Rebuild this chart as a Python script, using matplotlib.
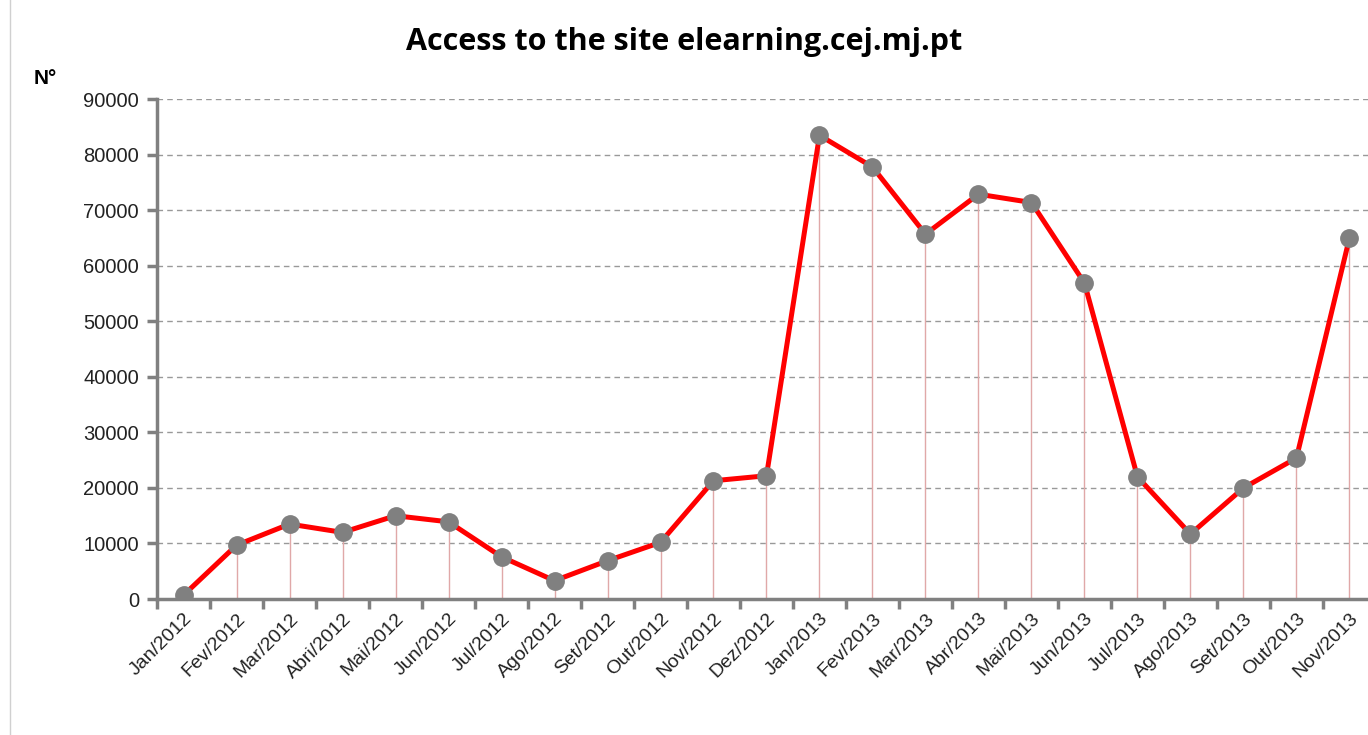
import matplotlib
matplotlib.use("Agg")
import matplotlib.pyplot as plt
from matplotlib.lines import Line2D

months = ["Jan/2012", "Fev/2012", "Mar/2012", "Abri/2012", "Mai/2012", "Jun/2012",
          "Jul/2012", "Ago/2012", "Set/2012", "Out/2012", "Nov/2012", "Dez/2012",
          "Jan/2013", "Fev/2013", "Mar/2013", "Abr/2013", "Mai/2013", "Jun/2013",
          "Jul/2013", "Ago/2013", "Set/2013", "Out/2013", "Nov/2013"]
accesses = [700, 9700, 13500, 12000, 15000, 13900, 7600, 3300, 6900, 10200, 21300, 22200,
            83500, 77800, 65700, 72900, 71400, 56900, 22000, 11700, 20000, 25400, 65000]
yticks = [0, 10000, 20000, 30000, 40000, 50000, 60000, 70000, 80000, 90000]

narrow = ["Liberation Sans Narrow", "Liberation Sans", "DejaVu Sans"]

fig = plt.figure(figsize=(13.68, 7.35), dpi=100)
ax = fig.add_axes([0.1148, 0.185, 0.891, 0.680])
x = list(range(len(months)))

ax.vlines(x, 0, accesses, colors="#e0a8a8", linewidth=1.0, zorder=2)
ax.plot(x, accesses, color="#ff0000", linewidth=3.6, zorder=3)
ax.plot(x, accesses, linestyle="none", marker="o", markersize=12.5,
        markerfacecolor="#808080", markeredgecolor="#808080", zorder=4)

ax.set_xlim(-0.5, len(months) - 0.5)
ax.set_ylim(0, 90000)
ax.set_yticks(yticks)
ax.set_yticklabels([str(v) for v in yticks], fontsize=14.5, family=narrow, color="#222222")
ax.set_xticks([i - 0.5 for i in range(len(months) + 1)])
ax.set_xticklabels([])
ax.set_xticks(x, minor=True)
ax.set_xticklabels(months, minor=True, rotation=45, ha="right", va="top",
                   rotation_mode="anchor", fontsize=14, family=narrow, color="#222222")
ax.tick_params(axis="x", which="minor", length=0, pad=8)
ax.tick_params(axis="x", which="major", length=7, width=2.5, color="#808080")
ax.tick_params(axis="y", length=7, width=2.5, color="#808080", pad=6)

for s in ["top", "right"]:
    ax.spines[s].set_visible(False)
for s in ["left", "bottom"]:
    ax.spines[s].set_color("#808080")
    ax.spines[s].set_linewidth(2.5)

ax.yaxis.grid(True, linestyle=(0, (4, 3)), color="#999999", linewidth=1.0)
ax.set_axisbelow(True)

fig.text(0.5, 0.943, "Access to the site elearning.cej.mj.pt", ha="center", va="center",
         fontsize=22, fontweight="bold", family=["Open Sans", "DejaVu Sans"])
fig.text(0.033, 0.893, "N°", ha="center", va="center", fontsize=15,
         fontweight="bold", family=narrow)

fig.add_artist(Line2D([0.0075, 0.0075], [0, 1], transform=fig.transFigure,
                      color="#d0d0d0", linewidth=1.0))

fig.savefig("out.png", dpi=100)
